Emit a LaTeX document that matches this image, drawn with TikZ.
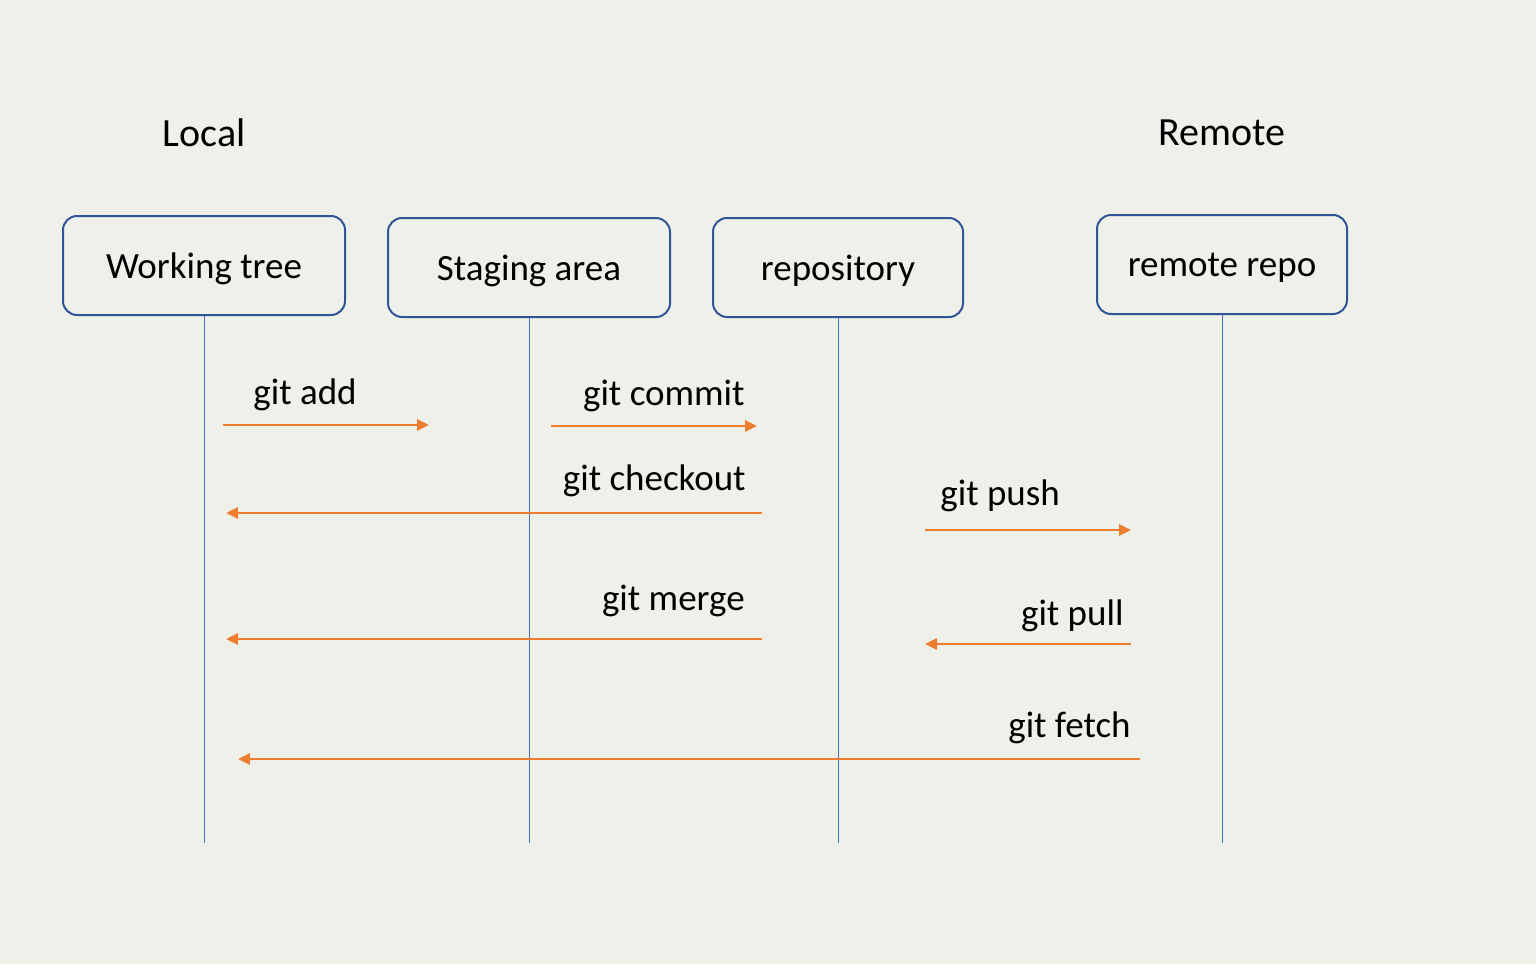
\documentclass[tikz,border=0pt]{standalone}
\usepackage{fontspec}
\setmainfont{Carlito}
\usetikzlibrary{arrows.meta}
\definecolor{bgcol}{RGB}{240,240,235}
\definecolor{boxcol}{RGB}{47,85,151}
\definecolor{lifecol}{RGB}{68,114,196}
\definecolor{cmdcol}{RGB}{237,125,49}
\tikzset{
  stage/.style={draw=boxcol,line width=1pt,rounded corners=7pt,minimum height=49.5pt,text depth=0pt,font=\fontsize{18.5}{22}\selectfont},
  side/.style={font=\fontsize{20}{24}\selectfont},
  cmd/.style={inner sep=0pt,font=\fontsize{18.5}{22}\selectfont},
  life/.style={draw=lifecol,line width=0.5pt},
  cmdarrow/.style={draw=cmdcol,line width=1.4pt,-{Triangle[length=6pt,width=5.5pt]}}
}
\begin{document}
\begin{tikzpicture}[x=0.5pt,y=-0.5pt]
\fill[bgcol] (0,0) rectangle (1536,964);
\useasboundingbox (0,0) rectangle (1536,964);
\node[side] (local) at (204,133) {Local};
\node[side] (remote) at (1222,133) {Remote};
% boxes
\node[stage,minimum width=141pt] (wt) at (204,265.5) {Working tree};
\node[stage,minimum width=141pt] (sa) at (529,267.5) {Staging area};
\node[stage,minimum width=125pt] (repo) at (838,267.5) {repository};
\node[stage,minimum width=125pt] (rr) at (1222,264.5) {remote repo};
% lifelines
\coordinate (wtend) at (204,843);
\coordinate (saend) at (529,843);
\coordinate (repoend) at (838,843);
\coordinate (rrend) at (1222,843);
\draw[life] (wt.south) -- (wtend);
\draw[life] (sa.south) -- (saend);
\draw[life] (repo.south) -- (repoend);
\draw[life] (rr.south) -- (rrend);
% commands
\coordinate (add1) at (223,425); \coordinate (add2) at (429,425);
\coordinate (com1) at (551,426); \coordinate (com2) at (757,426);
\coordinate (chk1) at (762,513); \coordinate (chk2) at (226,513);
\coordinate (push1) at (925,530); \coordinate (push2) at (1131,530);
\coordinate (mrg1) at (762,639); \coordinate (mrg2) at (226,639);
\coordinate (pull1) at (1131,644); \coordinate (pull2) at (925,644);
\coordinate (fet1) at (1140,759); \coordinate (fet2) at (238,759);
\draw[cmdarrow] (add1) -- (add2);
\draw[cmdarrow] (com1) -- (com2);
\draw[cmdarrow] (chk1) -- (chk2);
\draw[cmdarrow] (push1) -- (push2);
\draw[cmdarrow] (mrg1) -- (mrg2);
\draw[cmdarrow] (pull1) -- (pull2);
\draw[cmdarrow] (fet1) -- (fet2);
\node[cmd,anchor=base west] (addl) at (253,404) {git add};
\node[cmd,anchor=base east] (coml) at (745,405) {git commit};
\node[cmd,anchor=base east] (chkl) at (746,490) {git checkout};
\node[cmd,anchor=base west] (pushl) at (940,505) {git push};
\node[cmd,anchor=base east] (mrgl) at (745,610) {git merge};
\node[cmd,anchor=base east] (pulll) at (1124,625) {git pull};
\node[cmd,anchor=base east] (fetl) at (1131,737) {git fetch};
\end{tikzpicture}
\end{document}
